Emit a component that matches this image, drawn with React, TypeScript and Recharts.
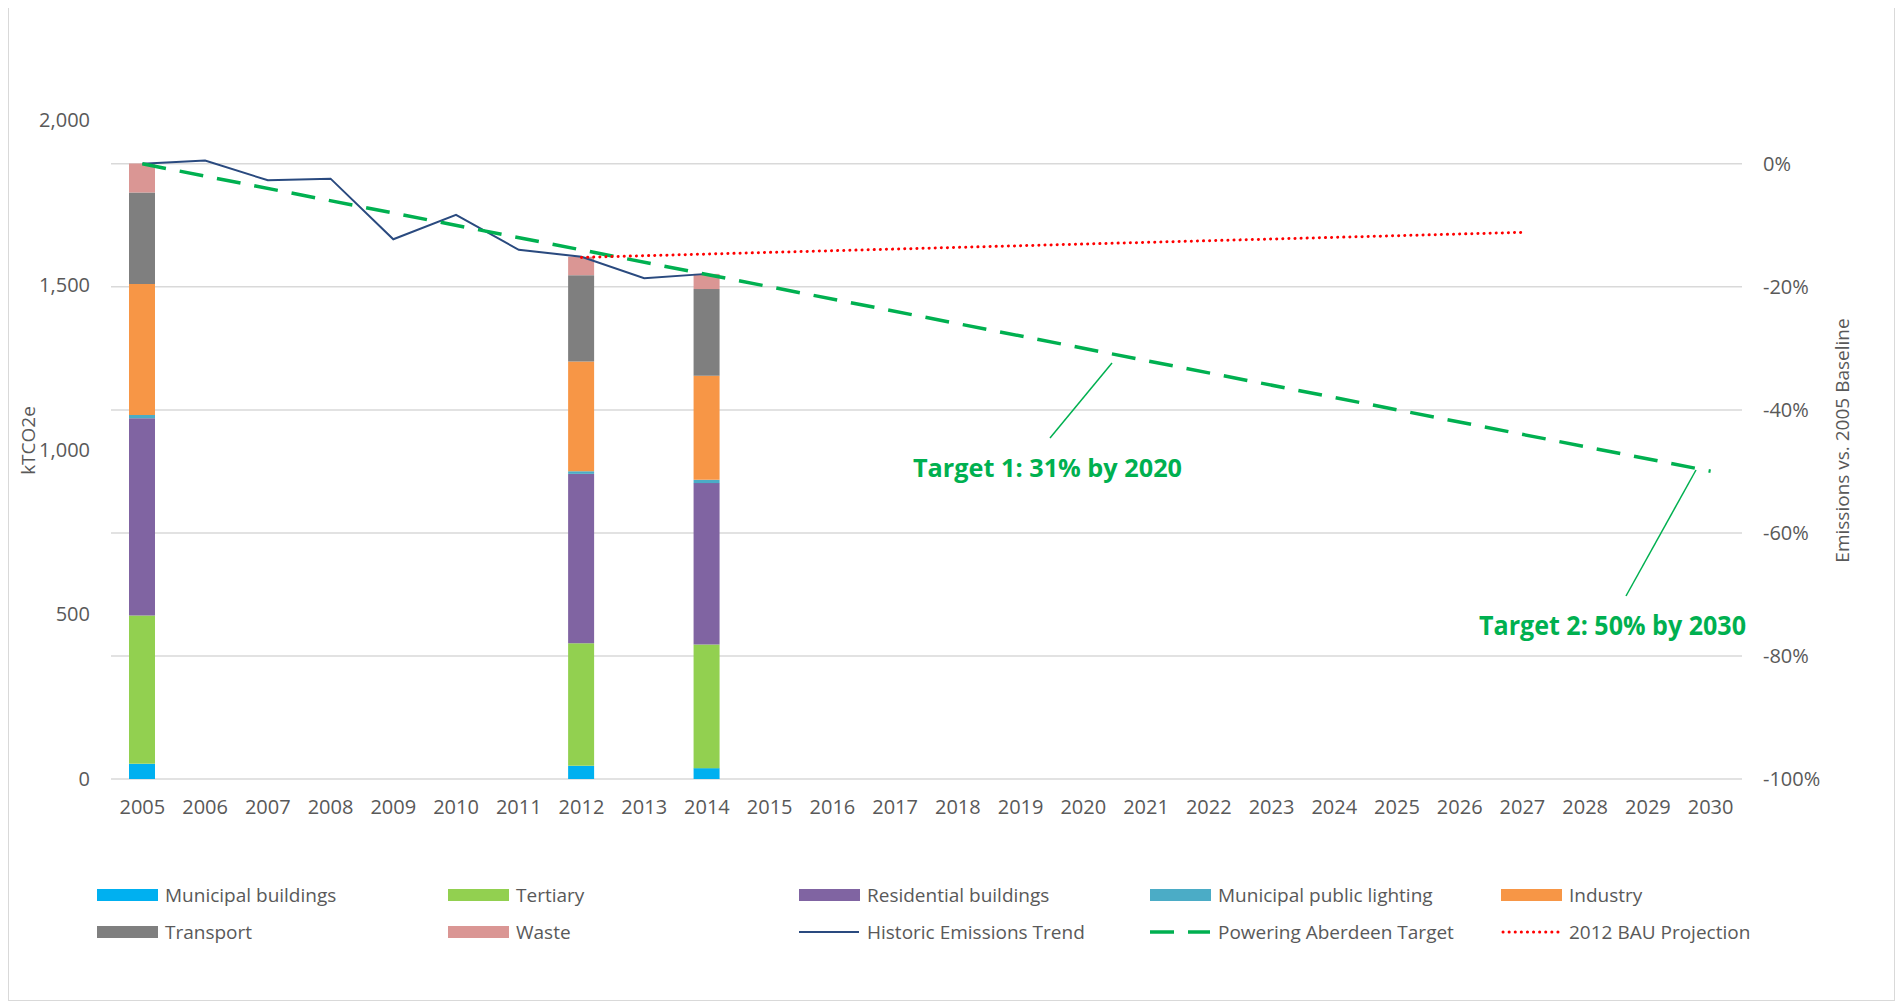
import React from 'react';
import {
  ComposedChart,
  Bar,
  Line,
  XAxis,
  YAxis,
  CartesianGrid,
} from 'recharts';

const years = [
  '2005', '2006', '2007', '2008', '2009', '2010', '2011', '2012', '2013',
  '2014', '2015', '2016', '2017', '2018', '2019', '2020', '2021', '2022',
  '2023', '2024', '2025', '2026', '2027', '2028', '2029', '2030',
];

// sector inventory years
const barYears = ['2005', '2012', '2014'];
const municipalBuildings = [46, 40, 33];
const tertiary = [450, 372, 375];
const residential = [599, 514, 490];
const publicLighting = [10, 8, 10];
const industry = [397, 333, 316];
const transport = [278, 262, 263];
const waste = [88, 56, 46];

const historicYears = ['2005', '2006', '2007', '2008', '2009', '2010', '2011', '2012', '2013', '2014'];
const historic = [1867, 1877, 1817, 1822, 1638, 1712, 1606, 1585, 1520, 1533];

const targetYears = ['2005', '2030'];
const target = [1867, 934];

const bauYears = ['2012', '2027'];
const bau = [1583, 1659];

const leftTicks = [0, 500, 1000, 1500, 2000];
const rightTicks = [0, -20, -40, -60, -80, -100];

const font = '"Open Sans", sans-serif';
const textGrey = '#595959';

const bars = [
  { key: 'mb', name: 'Municipal buildings', color: '#00B0F0', values: municipalBuildings },
  { key: 'tert', name: 'Tertiary', color: '#92D050', values: tertiary },
  { key: 'res', name: 'Residential buildings', color: '#8064A2', values: residential },
  { key: 'light', name: 'Municipal public lighting', color: '#4BACC6', values: publicLighting },
  { key: 'ind', name: 'Industry', color: '#F79646', values: industry },
  { key: 'trans', name: 'Transport', color: '#7F7F7F', values: transport },
  { key: 'waste', name: 'Waste', color: '#DA9694', values: waste },
];

const lines = [
  { key: 'hist', name: 'Historic Emissions Trend', color: '#2A4A7F', width: 2, dash: undefined, cap: 'butt', xs: historicYears, values: historic, connect: false },
  { key: 'target', name: 'Powering Aberdeen Target', color: '#00B050', width: 3.5, dash: '24 14', cap: 'butt', xs: targetYears, values: target, connect: true },
  { key: 'bau', name: '2012 BAU Projection', color: '#FF0000', width: 3, dash: '0.1 6', cap: 'round', xs: bauYears, values: bau, connect: true },
];

const data = years.map((y) => {
  const row: Record<string, any> = { year: y };
  bars.forEach((b) => {
    const i = barYears.indexOf(y);
    row[b.key] = i >= 0 ? b.values[i] : null;
  });
  lines.forEach((l) => {
    const i = l.xs.indexOf(y);
    row[l.key] = i >= 0 ? l.values[i] : null;
  });
  return row;
});

const baseline = historic[0];
const rightTop = (2000 / baseline - 1) * 100;

const legendItems = [
  ...bars.map((b) => ({ ...b, kind: 'rect' })),
  ...lines.map((l) => ({ ...l, kind: 'line' })),
];

function LegendBox() {
  return (
    <div style={{ position: 'absolute', left: 0, top: 869, width: 1885 }}>
      {legendItems.map((it: any, i) => {
        const col = i % 5;
        const row = Math.floor(i / 5);
        return (
          <div
            key={it.key}
            style={{
              position: 'absolute',
              left: 88 + col * 351,
              top: row * 37.5,
              height: 37,
              display: 'flex',
              alignItems: 'center',
              whiteSpace: 'nowrap',
              fontFamily: font,
              fontSize: 19,
              color: textGrey,
            }}
          >
            <svg width={62} height={14} style={{ marginRight: 6 }}>
              {it.kind === 'rect' ? (
                <rect x={0} y={1} width={61} height={12} fill={it.color} />
              ) : (
                <line
                  x1={it.cap === 'round' ? 2 : 0}
                  x2={60}
                  y1={7}
                  y2={7}
                  stroke={it.color}
                  strokeWidth={it.width}
                  strokeDasharray={it.dash}
                  strokeLinecap={it.cap}
                />
              )}
            </svg>
            {it.name}
          </div>
        );
      })}
    </div>
  );
}

function Annotations() {
  return (
    <svg
      width={1885}
      height={993}
      style={{ position: 'absolute', left: 0, top: 0, pointerEvents: 'none' }}
    >
      <line x1={1041} y1={431} x2={1103} y2={356} stroke="#00B050" strokeWidth={1.5} />
      <text
        x={904}
        y={470}
        fill="#00B050"
        fontFamily={font}
        fontWeight="bold"
        fontSize={25}
        textLength={269}
        lengthAdjust="spacingAndGlyphs"
      >
        Target 1: 31% by 2020
      </text>
      <line x1={1617} y1={589} x2={1687} y2={463} stroke="#00B050" strokeWidth={1.5} />
      <text
        x={1470}
        y={628}
        fill="#00B050"
        fontFamily={font}
        fontWeight="bold"
        fontSize={26}
        textLength={267}
        lengthAdjust="spacingAndGlyphs"
      >
        Target 2: 50% by 2030
      </text>
    </svg>
  );
}

// gridlines only at the percentage ticks, placed through the right axis scale
const gridRows = (props: any) => {
  const scale = props?.yAxis?.scale;
  if (scale && typeof scale === 'function') return rightTicks.map((t) => scale(t));
  if (scale && typeof scale.map === 'function') return rightTicks.map((t) => scale.map(t));
  return [];
};

export default function App() {
  return (
    <div
      style={{
        position: 'relative',
        width: 1885,
        height: 993,
        marginTop: -2,
        border: '1px solid #D9D9D9',
        background: '#fff',
      }}
    >
      <ComposedChart
        width={1885}
        height={880}
        data={data}
        margin={{ top: 113, right: 0, bottom: 68, left: 0 }}
        barCategoryGap={0}
      >
        <CartesianGrid
          yAxisId="right"
          vertical={false}
          stroke="#D9D9D9"
          strokeWidth={1.5}
          horizontalCoordinatesGenerator={gridRows}
        />
        <XAxis
          dataKey="year"
          interval={0}
          axisLine={false}
          tickLine={false}
          tickMargin={15}
          height={40}
          tick={{ fill: textGrey, fontSize: 20, fontFamily: font }}
        />
        <YAxis
          yAxisId="left"
          orientation="left"
          width={102}
          domain={[0, 2000]}
          ticks={leftTicks}
          allowDataOverflow
          axisLine={false}
          tickLine={false}
          tickMargin={15}
          tickFormatter={(v: number) => v.toLocaleString('en-US')}
          tick={{ fill: textGrey, fontSize: 20, fontFamily: font }}
          label={{
            value: 'kTCO2e',
            angle: -90,
            position: 'center',
            dx: -32,
            dy: -9,
            style: { fill: textGrey, fontSize: 19, fontFamily: font },
          }}
        />
        <YAxis
          yAxisId="right"
          orientation="right"
          width={152}
          domain={[-100, rightTop]}
          ticks={rightTicks}
          allowDataOverflow
          axisLine={false}
          tickLine={false}
          tickMargin={15}
          tickFormatter={(v: number) => `${v}%`}
          tick={{ fill: textGrey, fontSize: 20, fontFamily: font, textAnchor: 'start' }}
          label={{
            value: 'Emissions vs. 2005 Baseline',
            angle: -90,
            position: 'center',
            dx: 24,
            dy: -9,
            style: { fill: textGrey, fontSize: 19, fontFamily: font },
          }}
        />
        {bars.map((b) => (
          <Bar
            key={b.key}
            yAxisId="left"
            dataKey={b.key}
            name={b.name}
            stackId="s"
            fill={b.color}
            barSize={26}
            isAnimationActive={false}
          />
        ))}
        {lines.map((l) => (
          <Line
            key={l.key}
            yAxisId="left"
            type="linear"
            dataKey={l.key}
            name={l.name}
            stroke={l.color}
            strokeWidth={l.width}
            strokeDasharray={l.dash}
            strokeLinecap={l.cap as any}
            connectNulls={l.connect}
            dot={false}
            activeDot={false}
            isAnimationActive={false}
          />
        ))}
      </ComposedChart>
      <Annotations />
      <LegendBox />
    </div>
  );
}
